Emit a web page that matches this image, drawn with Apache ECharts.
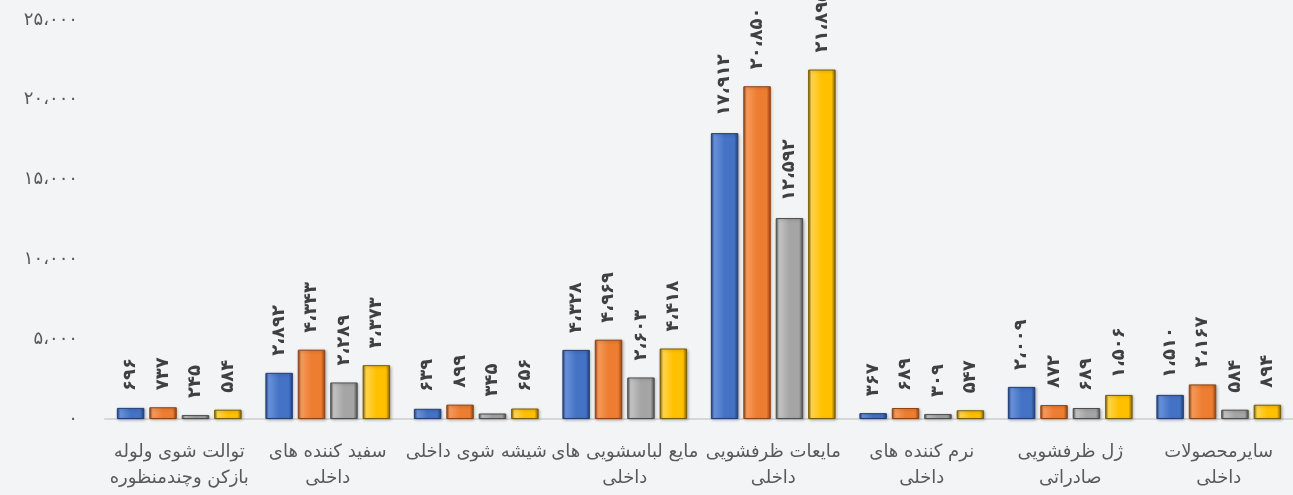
<!DOCTYPE html>
<html>
<head>
<meta charset="utf-8">
<script src="https://cdn.jsdelivr.net/npm/echarts@6/dist/echarts.min.js"></script>
<style>
  html, body { margin: 0; padding: 0; background: #f3f4f6; }
  #chart { width: 1293px; height: 495px; }
</style>
</head>
<body>
<div id="chart"></div>
<script>
// دسته بندی ها
var categories = [
  'توالت شوی ولوله\nبازکن وچندمنظوره',
  'سفید کننده های\nداخلی',
  'شیشه شوی داخلی',
  'مایع لباسشویی های\nداخلی',
  'مایعات ظرفشویی\nداخلی',
  'نرم کننده های\nداخلی',
  'ژل ظرفشویی\nصادراتی',
  'سایرمحصولات\nداخلی'
]
var seriesBlue = [696, 2892, 639, 4328, 17912, 367, 2009, 1510]
var seriesOrange = [737, 4343, 899, 4969, 20850, 689, 872, 2167]
var seriesGray = [245, 2289, 345, 2603, 12592, 309, 689, 584]
var seriesYellow = [584, 3373, 656, 4418, 21895, 547, 1506, 894]
var yTicks = [0, 5000, 10000, 15000, 20000, 25000]

var faDigits = '۰۱۲۳۴۵۶۷۸۹'
function toFa(n) {
  var s = String(Math.round(n)).replace(/\B(?=(\d{3})+(?!\d))/g, '،')
  return s.replace(/\d/g, function(d) { return faDigits[+d] })
}

// رنگ ستون ها با سایه روشن/تیره
function barColor(light, base, dark) {
  return new echarts.graphic.LinearGradient(0, 0, 1, 0, [
    { offset: 0, color: dark },
    { offset: 0.12, color: light },
    { offset: 0.5, color: base },
    { offset: 0.85, color: base },
    { offset: 1, color: dark }
  ])
}

function makeSeries(name, data, light, base, dark) {
  return {
    name: name,
    type: 'bar',
    data: data,
    barGap: '18%',
    barCategoryGap: '16%',
    itemStyle: {
      color: barColor(light, base, dark),
      borderColor: dark,
      borderWidth: 1,
      shadowColor: 'rgba(0,0,0,0.25)',
      shadowBlur: 3,
      shadowOffsetX: 1,
      shadowOffsetY: 1
    },
    label: {
      show: true,
      position: 'top',
      rotate: 90,
      distance: 17,
      align: 'left',
      verticalAlign: 'middle',
      color: '#404040',
      fontSize: 18,
      fontWeight: 'bold',
      fontFamily: 'DejaVu Sans',
      formatter: function(p) { return toFa(p.value) }
    }
  }
}

var chart = echarts.init(document.getElementById('chart'))
chart.setOption({
  backgroundColor: '#f3f4f6',
  animation: false,
  grid: { left: 105, right: -10, top: 20, bottom: 76 },
  xAxis: {
    type: 'category',
    data: categories,
    axisTick: { show: false },
    axisLine: { lineStyle: { color: '#d6d7d9', width: 2 } },
    axisLabel: {
      interval: 0,
      margin: 20,
      color: '#595959',
      fontSize: 18,
      lineHeight: 26,
      fontFamily: 'DejaVu Sans'
    }
  },
  yAxis: {
    type: 'value',
    min: yTicks[0],
    max: yTicks[yTicks.length - 1],
    interval: 5000,
    splitLine: { show: false },
    axisLine: { show: false },
    axisTick: { show: false },
    axisLabel: {
      margin: 27,
      color: '#595959',
      fontSize: 18,
      fontFamily: 'DejaVu Sans',
      formatter: function(v) { return toFa(v) }
    }
  },
  series: [
    makeSeries('s1', seriesBlue, '#6a93dc', '#4472c4', '#203f78'),
    makeSeries('s2', seriesOrange, '#f79a5c', '#ed7d31', '#8f4212'),
    makeSeries('s3', seriesGray, '#c4c4c4', '#a5a5a5', '#4d4d4d'),
    makeSeries('s4', seriesYellow, '#ffd54f', '#ffc000', '#7a5c00')
  ]
})
</script>
</body>
</html>
